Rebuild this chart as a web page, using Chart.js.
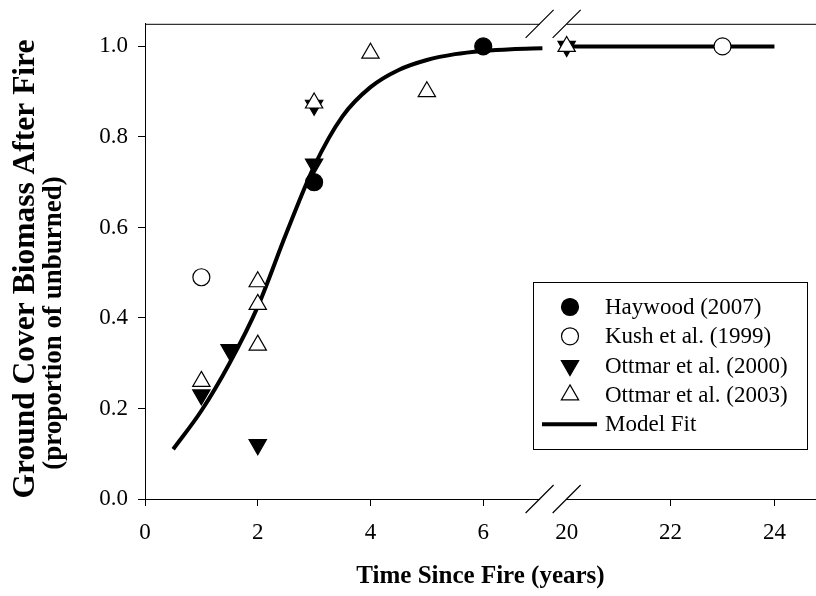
<!DOCTYPE html>
<html>
<head>
<meta charset="utf-8">
<script src="https://cdn.jsdelivr.net/npm/chart.js@4.4.1/dist/chart.umd.min.js"></script>
<style>
  html, body { margin: 0; padding: 0; background: #fff; }
  #wrap { width: 816px; height: 596px; position: relative; }
</style>
</head>
<body>
<div id="wrap"><canvas id="chart" width="816" height="596"></canvas></div>
<script>
// Years since fire; the x axis is broken between 7 and 20
const xTickValues = [0, 2, 4, 6, 20, 22, 24];
const xTickLabels = ['0', '2', '4', '6', '20', '22', '24'];
const yTickValues = [0, 0.2, 0.4, 0.6, 0.8, 1.0];

const haywoodX = [3, 6];
const haywoodY = [0.70, 1.0];
const kushX = [1, 23];
const kushY = [0.49, 1.0];
const ottmar2000X = [1, 1.5, 2, 3, 3, 20];
const ottmar2000Y = [0.23, 0.33, 0.12, 0.74, 0.87, 1.0];
const ottmar2003X = [1, 2, 2, 2, 3, 4, 5, 20];
const ottmar2003Y = [0.26, 0.48, 0.43, 0.34, 0.875, 0.985, 0.90, 1.0];

// model fit
const fitX = [0.5, 1, 1.5, 2, 2.5, 3, 3.5, 4, 4.5, 5, 5.5, 6, 6.5, 7.05];
const fitY = [0.11, 0.195, 0.30, 0.425, 0.585, 0.735, 0.845, 0.91, 0.948, 0.97, 0.983, 0.99, 0.994, 0.996];
const fitTailX = [20.1, 24];
const fitTailY = [1.0, 1.0];

// axis break
const LEFT_MAX = 7;
const GAP = 0.48;
const RIGHT_MIN = 20;
const RIGHT_SCALE = 0.9215;
const X_END = 24.8;

function axisX(x) {
    if (x <= LEFT_MAX + 0.1) return x;
    return LEFT_MAX + GAP + (x - RIGHT_MIN) * RIGHT_SCALE;
}
function pts(xs, ys) {
    return xs.map((x, i) => ({ x: axisX(x), y: ys[i] }));
}

const SERIF = '"Liberation Serif", "Times New Roman", serif';

const legendItems = [
    { label: 'Haywood (2007)', style: 'circle', fill: '#000', rot: 0, r: 8.5 },
    { label: 'Kush et al. (1999)', style: 'circle', fill: '#fff', rot: 0, r: 8.5 },
    { label: 'Ottmar et al. (2000)', style: 'triangle', fill: '#000', rot: 180, r: 10 },
    { label: 'Ottmar et al. (2003)', style: 'triangle', fill: '#fff', rot: 0, r: 10 },
    { label: 'Model Fit', style: 'line' }
];

const breakPlugin = {
    id: 'breakPlugin',
    beforeDatasetsDraw(chart) {
        const { ctx, chartArea: a, scales: { x } } = chart;
        const xL = x.getPixelForValue(LEFT_MAX);
        const xR = x.getPixelForValue(LEFT_MAX + GAP);
        ctx.save();
        // hide the bottom axis inside the gap
        ctx.fillStyle = '#fff';
        ctx.fillRect(xL + 0.5, a.bottom - 3, xR - xL - 1, 6);
        // top frame line, also broken
        ctx.strokeStyle = '#000';
        ctx.lineWidth = 1;
        ctx.beginPath();
        ctx.moveTo(a.left, a.top + 0.5); ctx.lineTo(xL, a.top + 0.5);
        ctx.moveTo(xR, a.top + 0.5); ctx.lineTo(a.right, a.top + 0.5);
        ctx.stroke();
        ctx.restore();
    },
    afterDraw(chart) {
        const { ctx, chartArea: a, scales: { x } } = chart;
        const xL = x.getPixelForValue(LEFT_MAX);
        const xR = x.getPixelForValue(LEFT_MAX + GAP);
        ctx.save();
        ctx.strokeStyle = '#000';
        ctx.lineWidth = 1.2;
        ctx.beginPath();
        for (const yy of [a.top, a.bottom]) {
            for (const xx of [xL, xR]) {
                ctx.moveTo(xx - 14, yy + 14);
                ctx.lineTo(xx + 14, yy - 14);
            }
        }
        ctx.stroke();

        // y axis title, two lines
        ctx.fillStyle = '#000';
        ctx.textAlign = 'center';
        ctx.textBaseline = 'alphabetic';
        ctx.font = 'bold 31.5px ' + SERIF;
        ctx.save();
        ctx.translate(34, 269);
        ctx.rotate(-Math.PI / 2);
        ctx.fillText('Ground Cover Biomass After Fire', 0, 0);
        ctx.restore();
        ctx.font = 'bold 27px ' + SERIF;
        ctx.save();
        ctx.translate(61, 323);
        ctx.rotate(-Math.PI / 2);
        ctx.fillText('(proportion of unburned)', 0, 0);
        ctx.restore();

        // legend box
        const bx = 533, by = 282, bw = 274, bh = 167;
        ctx.lineWidth = 1;
        ctx.strokeRect(bx + 0.5, by + 0.5, bw, bh);
        ctx.font = '23px ' + SERIF;
        ctx.textAlign = 'left';
        ctx.textBaseline = 'middle';
        legendItems.forEach((it, i) => {
            const cy = by + 25 + i * 29.3;
            const mx = 570;
            if (it.style === 'line') {
                ctx.lineWidth = 4;
                ctx.beginPath();
                ctx.moveTo(542, cy); ctx.lineTo(597, cy);
                ctx.stroke();
            } else {
                ctx.fillStyle = it.fill;
                ctx.strokeStyle = '#000';
                ctx.lineWidth = 1.2;
                Chart.helpers.drawPoint(ctx, { pointStyle: it.style, radius: it.r, rotation: it.rot, borderWidth: 1.2 }, mx, cy);
            }
            ctx.fillStyle = '#000';
            ctx.fillText(it.label, 605, cy + 1);
        });
        ctx.restore();
    }
};

const markerBase = { showLine: false, borderColor: '#000', borderWidth: 1.2, pointHoverRadius: 9 };

new Chart(document.getElementById('chart'), {
    type: 'scatter',
    data: {
        datasets: [
            {
                label: 'Model Fit', data: pts(fitX, fitY), showLine: true, borderColor: '#000',
                borderWidth: 4, pointRadius: 0, cubicInterpolationMode: 'monotone', order: 10
            },
            {
                label: 'Model Fit tail', data: pts(fitTailX, fitTailY), showLine: true, borderColor: '#000',
                borderWidth: 4, pointRadius: 0, order: 10
            },
            { ...markerBase, label: 'Haywood (2007)', data: pts(haywoodX, haywoodY), pointStyle: 'circle', pointRadius: 8.5, backgroundColor: '#000', order: 3 },
            { ...markerBase, label: 'Kush et al. (1999)', data: pts(kushX, kushY), pointStyle: 'circle', pointRadius: 8.5, backgroundColor: '#fff', order: 3 },
            { ...markerBase, label: 'Ottmar et al. (2000)', data: pts(ottmar2000X, ottmar2000Y), pointStyle: 'triangle', rotation: 180, pointRadius: 10, backgroundColor: '#000', order: 2 },
            { ...markerBase, label: 'Ottmar et al. (2003)', data: pts(ottmar2003X, ottmar2003Y), pointStyle: 'triangle', pointRadius: 10, backgroundColor: '#fff', order: 1 }
        ]
    },
    options: {
        responsive: false,
        animation: false,
        clip: false,
        layout: { autoPadding: false, padding: { top: 22, right: 0, left: 0, bottom: 0 } },
        plugins: { legend: { display: false }, tooltip: { enabled: false } },
        scales: {
            x: {
                type: 'linear', min: 0, max: axisX(X_END),
                afterBuildTicks: (s) => { s.ticks = xTickValues.map(v => ({ value: axisX(v) })); },
                afterFit: (s) => { s.height = 97; },
                ticks: {
                    callback: (v, i) => xTickLabels[i],
                    color: '#000', padding: 13, maxRotation: 0, autoSkip: false,
                    font: { family: SERIF, size: 23 }
                },
                grid: {
                    drawOnChartArea: false, tickLength: 7, tickWidth: 1,
                    // no tick mark at 20, it sits on the break
                    tickColor: (c) => (xTickValues[c.index] === RIGHT_MIN ? 'rgba(0,0,0,0)' : '#000')
                },
                border: { color: '#000', width: 1 },
                title: {
                    display: true, text: 'Time Since Fire (years)', color: '#000',
                    font: { family: SERIF, size: 25, weight: 'bold' }, padding: { top: 12 }
                }
            },
            y: {
                type: 'linear', min: 0, max: 1.05,
                afterBuildTicks: (s) => { s.ticks = yTickValues.map(v => ({ value: v })); },
                afterFit: (s) => { s.width = 145; },
                ticks: {
                    callback: (v) => v.toFixed(1),
                    color: '#000', padding: 10,
                    font: { family: SERIF, size: 23 }
                },
                grid: { drawOnChartArea: false, tickLength: 7, color: '#000', tickWidth: 1 },
                border: { color: '#000', width: 1 }
            }
        }
    },
    plugins: [breakPlugin]
});
</script>
</body>
</html>
